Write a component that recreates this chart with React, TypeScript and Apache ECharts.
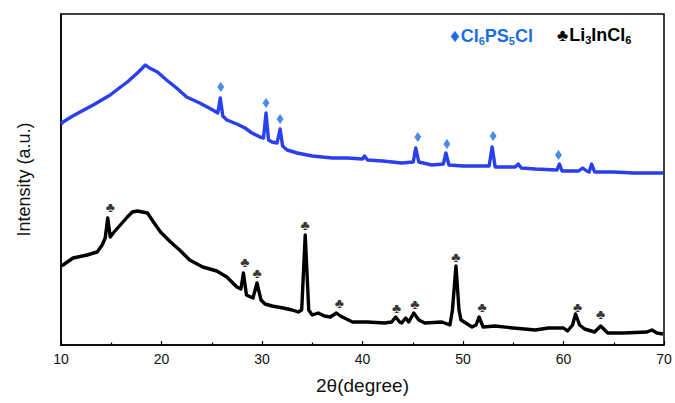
import React, { useEffect, useRef } from "react";
import * as echarts from "echarts";

// 2θ (degree), intensity (a.u.)
const blueX = [10.0, 10.2, 11.0, 11.9, 13.2, 14.9, 15.8, 16.6, 17.6, 18.0, 18.4, 18.8, 19.6, 20.5, 21.5, 22.5, 23.8, 25.1, 25.6, 25.85, 26.1, 26.5, 27.5, 28.3, 29.0, 29.8, 30.15, 30.4, 30.65, 31.0, 31.5, 31.8, 32.05, 32.5, 33.5, 35.0, 37.0, 38.5, 40.0, 40.2, 40.5, 42.0, 43.9, 45.05, 45.3, 45.6, 46.9, 48.05, 48.3, 48.6, 50.0, 52.6, 52.9, 53.2, 55.2, 55.5, 55.8, 57.2, 59.35, 59.6, 59.85, 61.5, 61.9, 62.3, 62.55, 62.8, 63.1, 65.0, 67.0, 69.9];
const blueY = [221, 223, 228, 233, 240, 250, 257, 263, 272, 276, 280, 277, 273, 265, 257, 248, 242, 235, 232, 247, 229, 225, 221, 217, 212, 208, 207, 232, 205, 203, 202, 216, 199, 195, 192, 189, 187, 187, 186, 189, 185, 184, 182, 183, 197, 183, 180, 181, 192, 180, 179, 179, 198, 178, 178, 181, 177, 176, 175, 181, 174, 174, 177, 174, 173, 181, 173, 173, 172, 172];

const blackX = [10.0, 10.2, 11.2, 12.6, 13.6, 14.1, 14.4, 14.65, 14.9, 15.2, 15.9, 16.6, 17.1, 17.6, 18.1, 18.6, 19.2, 19.9, 20.9, 21.8, 22.8, 24.1, 25.5, 26.5, 27.5, 27.9, 28.15, 28.45, 29.1, 29.5, 29.9, 30.3, 31.0, 32.1, 33.0, 33.6, 33.95, 34.3, 34.65, 35.0, 35.6, 36.2, 36.8, 37.4, 37.8, 39.0, 40.5, 42.2, 42.9, 43.3, 43.7, 43.9, 44.3, 44.6, 45.1, 45.6, 46.2, 47.9, 48.7, 48.95, 49.3, 49.6, 49.8, 50.9, 51.3, 51.6, 52.0, 53.2, 55.0, 57.2, 58.5, 60.0, 60.4, 60.9, 61.2, 61.6, 62.1, 63.1, 63.7, 64.4, 66.0, 68.3, 68.8, 69.3, 69.9];
const blackY = [79, 80, 87, 90, 93, 100, 107, 127, 108, 112, 120, 128, 133, 134, 133, 132, 123, 113, 103, 95, 85, 78, 74, 68, 58, 56, 72, 50, 47, 62, 45, 41, 39, 37, 35, 33, 35, 110, 35, 30, 32, 29, 28, 32, 29, 23, 23, 22, 23, 28, 23, 22, 27, 23, 32, 25, 22, 23, 20, 35, 79, 35, 25, 18, 20, 28, 18, 19, 17, 15, 17, 17, 14, 20, 31, 20, 16, 13, 19, 12, 12, 13, 15, 12, 11];

// peak marker positions
const diamondX = [25.9, 30.4, 31.8, 45.5, 48.4, 53.0, 59.5];
const diamondY = [258, 242, 226, 208, 201, 209, 190];
const clubX = [14.9, 28.3, 29.5, 34.3, 37.7, 43.4, 45.2, 49.3, 51.9, 61.4, 63.7];
const clubY = [138, 83, 72, 120, 42, 37, 41, 88, 38, 38, 31];

const xTicks = [10, 20, 30, 40, 50, 60, 70];

const BLUE_LINE = "#2a3ff0";
const BLUE_MARK = "#1c6ee2";
const FONT = "Liberation Sans, Arial, sans-serif";

export default function App() {
  const ref = useRef<HTMLDivElement>(null);
  useEffect(() => {
    if (!ref.current) return;
    const chart = echarts.init(ref.current, null, { renderer: "svg" });
    const zip = (xs: number[], ys: number[]) => xs.map((x, i) => [x, ys[i]]);
    chart.setOption({
      animation: false,
      grid: { left: 61, right: 11, top: 14, bottom: 58, show: true, borderColor: "#000", borderWidth: 1.5, backgroundColor: "transparent" },
      xAxis: {
        type: "value",
        min: xTicks[0],
        max: xTicks[xTicks.length - 1],
        interval: 10,
        name: "2θ(degree)",
        nameLocation: "middle",
        nameGap: 31,
        nameTextStyle: { fontFamily: FONT, fontSize: 19, color: "#111" },
        axisLine: { show: true, lineStyle: { color: "#000", width: 1.5 } },
        axisTick: { show: true, inside: true, length: 4, lineStyle: { color: "#000", width: 1.2 } },
        minorTick: { show: true, splitNumber: 2, length: 2.5, lineStyle: { color: "#000", width: 1.2 } },
        axisLabel: { fontFamily: FONT, fontSize: 14, color: "#111", margin: 7 },
        splitLine: { show: false },
      },
      yAxis: {
        type: "value",
        min: 0,
        max: 331,
        name: "Intensity (a.u.)",
        nameLocation: "middle",
        nameGap: 28,
        nameTextStyle: { fontFamily: FONT, fontSize: 18, color: "#111" },
        axisLine: { show: true, lineStyle: { color: "#000", width: 1.5 } },
        axisTick: { show: false },
        axisLabel: { show: false },
        splitLine: { show: false },
      },
      graphic: [
        {
          type: "text",
          left: 450,
          top: 26,
          style: {
            text: "{d|♦}{b|Cl}{s|6}{b|PS}{s|5}{b|Cl}",
            rich: {
              d: { fontFamily: FONT, fontSize: 19, fill: BLUE_MARK, padding: [0, 1, 0, 0] },
              b: { fontFamily: FONT, fontSize: 18, fontWeight: "bold", fill: BLUE_MARK },
              s: { fontFamily: FONT, fontSize: 11, fontWeight: "bold", fill: BLUE_MARK, padding: [10, 0, 0, 0] },
            },
          },
        },
        {
          type: "text",
          left: 557,
          top: 26,
          style: {
            text: "{d|♣}{b|Li}{s|3}{b|InCl}{s|6}",
            rich: {
              d: { fontFamily: FONT, fontSize: 17, fill: "#000", padding: [0, 1, 0, 0] },
              b: { fontFamily: FONT, fontSize: 18, fontWeight: "bold", fill: "#000" },
              s: { fontFamily: FONT, fontSize: 11, fontWeight: "bold", fill: "#000", padding: [10, 0, 0, 0] },
            },
          },
        },
      ],
      series: [
        {
          type: "line",
          data: zip(blueX, blueY),
          showSymbol: false,
          symbol: "none",
          lineStyle: { color: BLUE_LINE, width: 3.4, join: "round" },
        },
        {
          type: "line",
          data: zip(blackX, blackY),
          showSymbol: false,
          symbol: "none",
          lineStyle: { color: "#000", width: 3.4, join: "round" },
        },
        {
          type: "scatter",
          data: zip(diamondX, diamondY),
          symbol: "diamond",
          symbolSize: [7, 10],
          itemStyle: { color: BLUE_MARK },
        },
        {
          type: "scatter",
          data: zip(clubX, clubY),
          symbolSize: 1,
          itemStyle: { color: "transparent" },
          label: { show: true, position: "inside", formatter: "♣", fontFamily: FONT, fontSize: 14, color: "#000" },
        },
      ],
    });
    return () => chart.dispose();
  }, []);
  return <div ref={ref} style={{ position: "fixed", left: 0, top: 0, width: 675, height: 403, background: "#fff" }} />;
}
